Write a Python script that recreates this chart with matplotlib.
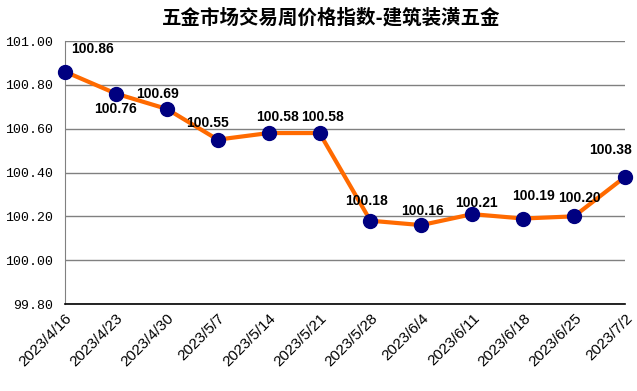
import matplotlib
matplotlib.use("Agg")
import matplotlib.pyplot as plt

dates = ["2023/4/16", "2023/4/23", "2023/4/30", "2023/5/7", "2023/5/14", "2023/5/21",
         "2023/5/28", "2023/6/4", "2023/6/11", "2023/6/18", "2023/6/25", "2023/7/2"]
values = [100.86, 100.76, 100.69, 100.55, 100.58, 100.58,
          100.18, 100.16, 100.21, 100.19, 100.20, 100.38]
yticks = [99.80, 100.00, 100.20, 100.40, 100.60, 100.80, 101.00]
title = "五金市场交易周价格指数-建筑装潢五金"

# label offsets in pixels (dx, dy up) relative to the point
offsets = [(28, 23), (0, -15), (-9, 15), (-10, 17), (9, 16), (3, 16),
           (-4, 20), (1, 14), (4, 11), (10, 23), (5, 18), (-14, 27)]

fig = plt.figure(figsize=(6.37, 3.91), dpi=100)
ax = fig.add_axes([65 / 637, 1 - 304 / 391, (625 - 65) / 637, (304 - 41) / 391])

x = list(range(len(values)))
ax.plot(x, values, color="#FF6A00", lw=3, zorder=3, clip_on=False)
ax.plot(x, values, ls="none", marker="o", ms=10, color="#000080", zorder=4, clip_on=False)

for xi, v, (dx, dy) in zip(x, values, offsets):
    ax.annotate(f"{v:.2f}", (xi, v), xytext=(dx * 0.72, dy * 0.72), textcoords="offset points",
                ha="center", va="center", fontsize=10, fontweight="bold",
                family="Liberation Sans", color="black", zorder=5)

ax.set_xlim(0, len(values) - 1)
ax.set_ylim(99.8, 101.0)
ax.set_yticks(yticks)
ax.set_yticklabels([f"{t:.2f}" for t in yticks], family="Liberation Mono", fontsize=9.5)
ax.set_xticks(x)
ax.set_xticklabels(dates, rotation=45, ha="right", rotation_mode="anchor",
                   family="Liberation Sans", fontsize=11)
ax.tick_params(axis="both", length=0)
ax.tick_params(axis="y", pad=8.5)
ax.tick_params(axis="x", pad=5)
ax.grid(axis="y", color="#808080", lw=1)
for s in ["top", "right"]:
    ax.spines[s].set_visible(False)
ax.spines["left"].set_color("#808080")
ax.spines["bottom"].set_color("black")
ax.spines["bottom"].set_linewidth(1.2)
ax.set_axisbelow(True)

fig.text(0.5 * (160 + 502) / 637, 1 - 18 / 391, title, ha="center", va="center", fontsize=14,
         fontweight="bold", family=["Noto Sans CJK SC", "DejaVu Sans"])

fig.savefig("out.png", dpi=100)
